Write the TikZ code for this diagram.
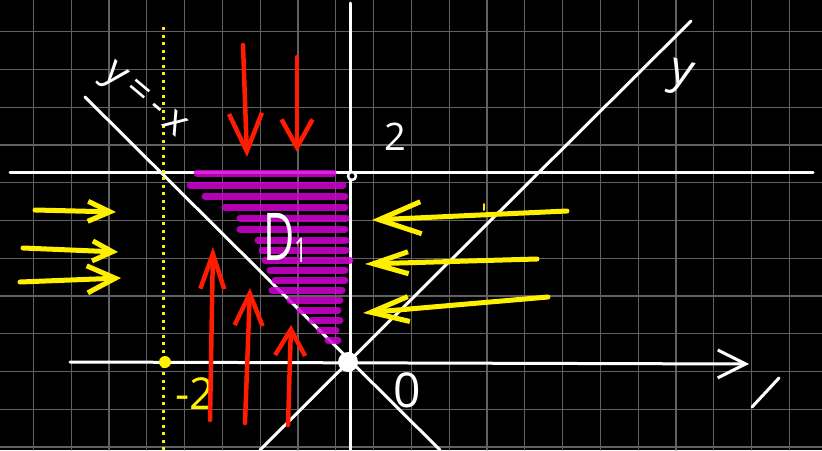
\documentclass[tikz,border=0pt]{standalone}
\usepackage{fontspec}
\setmainfont{Open Sans}
\usetikzlibrary{arrows.meta}
\definecolor{penred}{RGB}{255,28,0}
\definecolor{penyellow}{RGB}{255,240,0}
\definecolor{penmagenta}{RGB}{212,0,212}

\begin{document}
\begin{tikzpicture}[x=1pt, y=-1pt, line cap=round, line join=round,
    chalk/.style={white, line width=3pt},
    gridline/.style={white!38!black, line width=1.2pt},
    redpen/.style={penred, line width=4.5pt},
    yellowpen/.style={penyellow, line width=5pt},
    hatch/.style={penmagenta, line width=7pt, opacity=0.85},
    barb/.style 2 args={-{Straight Barb[length=#1pt, width=#2pt]}},
    hand/.style={inner sep=0pt, font=\fontsize{#1}{#1}\selectfont}]
  \fill[black] (0,0) rectangle (822,450);
  \useasboundingbox (0,0) rectangle (822,450);

  \foreach \i in {0,...,20}
    \draw[gridline] ({33.3+37.8*\i},0) -- ({33.3+37.8*\i},450);
  \foreach \j in {0,...,11}
    \draw[gridline] (0,{31.7+37.75*\j}) -- (822,{31.7+37.75*\j});

  \draw[chalk, barb={28}{28}] (70,362) -- (749,364);
  \draw[chalk] (350,3) -- (350,450);
  \draw[chalk] (10,172) -- (813,172);
  \draw[chalk] (260,450) -- (691,21);
  \draw[chalk] (85,97) -- (440,450);
  \draw[chalk] (752,407) -- (779,378);

  \draw[penyellow, line width=3pt, line cap=butt, dash pattern=on 3pt off 4.5pt]
    (163,27) -- (163,450);

  \foreach \y/\xl/\xr in {173/197/333, 185/190/343, 196/205/345, 207/225/345,
      218/240/346, 229/240/345, 240/258/346, 250/262/346, 260/265/350,
      270/270/345, 280/275/345, 290/272/342, 300/290/340, 310/300/338,
      320/312/340, 330/320/336, 340/328/338}
    \draw[hatch] (\xl,\y) -- (\xr,\y);

  \fill[white] (348,362) circle (10);
  \fill[penyellow] (165,362) circle (6);
  \draw[white, line width=2.5pt, fill=black] (352,176) circle (4);

  \node[hand=40, white, rotate=-40] (eqminus) at (143,102)
    {y\hspace{7pt}=\hspace{7pt}-\hspace{7pt}x};
  \node[hand=46, white, rotate=-15] (eqplus) at (680,78) {y};
  \node[hand=38, white] (two) at (395,137) {2};
  \node[hand=48, white] (zero) at (407,390) {0};
  \node[hand=44, penyellow] (mtwo) at (195,394) {-2};
  \node[hand=66, white, xscale=0.65] (dom) at (285,238)
    {D\raisebox{-2pt}{\fontsize{34}{34}\selectfont 1}};

  \draw[redpen, barb={38}{33}] (243,45) -- (247,157);
  \draw[redpen, barb={28}{31}] (297,57) -- (297,152);
  \draw[redpen, barb={35}{24}] (210,420) -- (213,247);
  \draw[redpen, barb={32}{28}] (245,423) -- (250,288);
  \draw[redpen, barb={26}{30}] (288,425) -- (291,325);

  \draw[yellowpen, barb={22}{20}] (35,210) -- (116,212);
  \draw[yellowpen, barb={20}{20}] (23,248) -- (118,252);
  \draw[yellowpen, barb={28}{27}] (20,282) -- (121,278);
  \draw[yellowpen, barb={42}{32}] (567,211) -- (372,220);
  \draw[yellowpen, barb={35}{22}] (537,259) -- (365,264);
  \draw[yellowpen, barb={38}{25}] (548,297) -- (363,313);
  \draw[penyellow, line width=2pt] (484,204) -- (484,210);
\end{tikzpicture}
\end{document}
